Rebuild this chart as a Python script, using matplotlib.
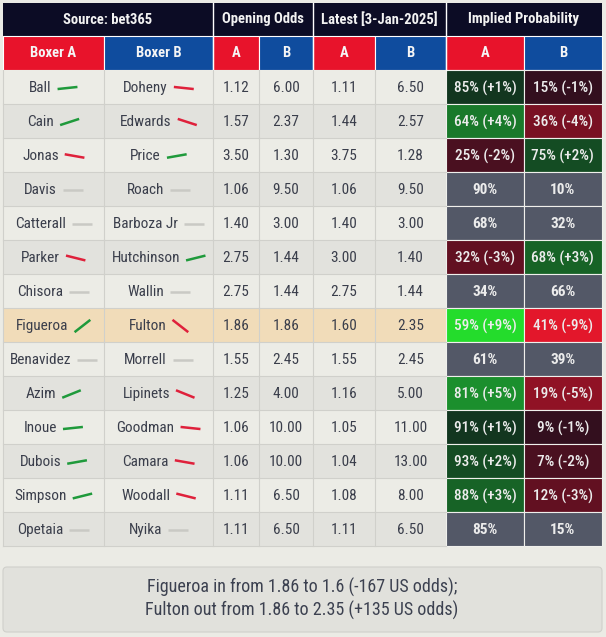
import matplotlib
matplotlib.use("Agg")
import matplotlib.pyplot as plt
from matplotlib import font_manager
from matplotlib.colors import LinearSegmentedColormap
from matplotlib.patches import Rectangle, FancyBboxPatch
import numpy as np

boxer_a = ["Ball", "Cain", "Jonas", "Davis", "Catterall", "Parker", "Chisora",
           "Figueroa", "Benavidez", "Azim", "Inoue", "Dubois", "Simpson", "Opetaia"]
boxer_b = ["Doheny", "Edwards", "Price", "Roach", "Barboza Jr", "Hutchinson", "Wallin",
           "Fulton", "Morrell", "Lipinets", "Goodman", "Camara", "Woodall", "Nyika"]
open_a = [1.12, 1.57, 3.50, 1.06, 1.40, 2.75, 2.75, 1.86, 1.55, 1.25, 1.06, 1.06, 1.11, 1.11]
open_b = [6.00, 2.37, 1.30, 9.50, 3.00, 1.44, 1.44, 1.86, 2.45, 4.00, 10.00, 10.00, 6.50, 6.50]
latest_a = [1.11, 1.44, 3.75, 1.06, 1.40, 3.00, 2.75, 1.60, 1.55, 1.16, 1.05, 1.04, 1.08, 1.11]
latest_b = [6.50, 2.57, 1.28, 9.50, 3.00, 1.40, 1.44, 2.35, 2.45, 5.00, 11.00, 13.00, 8.00, 6.50]
prob_a = [85, 64, 25, 90, 68, 32, 34, 59, 61, 81, 91, 93, 88, 85]
prob_b = [15, 36, 75, 10, 32, 68, 66, 41, 39, 19, 9, 7, 12, 15]
change_a = [1, 4, -2, 0, 0, -3, 0, 9, 0, 5, 1, 2, 3, 0]
change_b = [-1, -4, 2, 0, 0, 3, 0, -9, 0, -5, -1, -2, -3, 0]
highlight = "Figueroa"

top_headers = ["Source: bet365", "Opening Odds", "Latest [3-Jan-2025]", "Implied Probability"]
sub_headers = ["Boxer A", "Boxer B", "A", "B", "A", "B", "A", "B"]
note_lines = ["Figueroa in from 1.86 to 1.6 (-167 US odds);",
              "Fulton out from 1.86 to 2.35 (+135 US odds)"]

# fonts: a condensed face if there is one
names = {f.name for f in font_manager.fontManager.ttflist}
font = "Roboto"
scale = 0.95
for fam in ["Roboto Condensed", "Liberation Sans Narrow"]:
    if fam in names:
        font = fam
        scale = 1.0
        break
plt.rcParams["font.family"] = [font, "DejaVu Sans"]

BG = "#ebebe5"
ROW_LIGHT = "#ecece6"
ROW_DARK = "#e2e2dd"
ROW_HL = "#f1dcb9"
NAVY = "#0c0c25"
RED = "#e8132b"
BLUE = "#0f4c9e"
TXT = "#3a3e4b"
GRID = "#d0d0cb"

green_map = LinearSegmentedColormap.from_list(
    "up", [(0, "#10201c"), (0.55, "#1b8e2d"), (1, "#24dc2c")])
red_map = LinearSegmentedColormap.from_list(
    "down", [(0, "#1c0e1c"), (0.55, "#8f1225"), (1, "#e3172b")])


def prob_color(c):
    if c == 0:
        return "#535867"
    if c > 0:
        return green_map(min(c / 9, 1))
    return red_map(min(-c / 9, 1))


def trend_color(c):
    if c > 0:
        return "#1f9a3b"
    if c < 0:
        return "#df213b"
    return "#c9c9c4"


fig = plt.figure(figsize=(6.06, 6.37), dpi=100)
fig.patch.set_facecolor(BG)
ax = fig.add_axes([0, 0, 1, 1])
ax.set_xlim(0, 606)
ax.set_ylim(637, 0)
ax.axis("off")
renderer = fig.canvas.get_renderer()

cols = [2.5, 104, 213, 259, 313, 375, 446, 524, 601.5]
h1_top, h1_bot = 3, 36
row_h = 34
first = 70
n = len(boxer_a)

# header rows
ax.add_patch(Rectangle((cols[0], h1_top), cols[-1] - cols[0], h1_bot - h1_top,
                       facecolor=NAVY, edgecolor="none"))
spans = [(0, 2), (2, 4), (4, 6), (6, 8)]
for label, (i, j) in zip(top_headers, spans):
    ax.text((cols[i] + cols[j]) / 2, (h1_top + h1_bot) / 2, label, color="#f2f2f2",
            fontsize=10.5 * scale, fontweight="bold", ha="center", va="center")
    if i > 0:
        ax.plot([cols[i]] * 2, [h1_top, first], color="white", lw=1)
for k, label in enumerate(sub_headers):
    ax.add_patch(Rectangle((cols[k], h1_bot), cols[k + 1] - cols[k], first - h1_bot,
                           facecolor=RED if k % 2 == 0 else BLUE, edgecolor="white", lw=0.8))
    ax.text((cols[k] + cols[k + 1]) / 2, (h1_bot + first) / 2, label, color="#f5f5f5",
            fontsize=10.5 * scale, fontweight="bold", ha="center", va="center")


def name_with_trend(name, change, x0, x1, cy):
    t = ax.text(0, cy + 1, name, color=TXT, fontsize=11 * scale, ha="left", va="center")
    w = t.get_window_extent(renderer=renderer).width
    ang = np.radians(4 * abs(change) + 2) * np.sign(change)
    length = 20
    dx, dy = length * np.cos(ang), length * np.sin(ang)
    gap = 6
    start = (x0 + x1) / 2 - (w + gap + dx) / 2
    t.set_x(start)
    lx = start + w + gap
    ax.plot([lx, lx + dx], [cy + dy / 2 + 1, cy - dy / 2 + 1],
            color=trend_color(change), lw=1.8, solid_capstyle="butt")


for r in range(n):
    y0 = first + r * row_h
    cy = y0 + row_h / 2
    if boxer_a[r] == highlight:
        fc = ROW_HL
    else:
        fc = ROW_LIGHT if r % 2 == 0 else ROW_DARK
    ax.add_patch(Rectangle((cols[0], y0), cols[6] - cols[0], row_h,
                           facecolor=fc, edgecolor="none"))
    for k in range(1, 6):
        ax.plot([cols[k]] * 2, [y0, y0 + row_h], color=GRID, lw=0.8)
    ax.plot([cols[0], cols[6]], [y0 + row_h] * 2, color=GRID, lw=0.8)

    name_with_trend(boxer_a[r], change_a[r], cols[0], cols[1], cy)
    name_with_trend(boxer_b[r], change_b[r], cols[1], cols[2], cy)
    for k, val in zip(range(2, 6), [open_a[r], open_b[r], latest_a[r], latest_b[r]]):
        ax.text((cols[k] + cols[k + 1]) / 2, cy + 1, f"{val:.2f}", color=TXT,
                fontsize=11 * scale, ha="center", va="center")

    for k, p, c in [(6, prob_a[r], change_a[r]), (7, prob_b[r], change_b[r])]:
        ax.add_patch(Rectangle((cols[k], y0), cols[k + 1] - cols[k], row_h,
                               facecolor=prob_color(c), edgecolor="#f0f0ec", lw=0.8))
        label = f"{p}%" if c == 0 else f"{p}% ({c:+d}%)"
        ax.text((cols[k] + cols[k + 1]) / 2, cy + 1, label, color="#ececec",
                fontsize=11 * scale, fontweight="bold" if c == 0 else "medium",
                ha="center", va="center")

ax.plot([cols[0]] * 2, [first, first + n * row_h], color=GRID, lw=0.8)

# footer note
box = FancyBboxPatch((3, 567), 599, 65, boxstyle="round,pad=0,rounding_size=4",
                     facecolor="#e1e1dc", edgecolor="#d0d0cb", lw=0.8)
ax.add_patch(box)
ax.text(302, 599, "\n".join(note_lines), color="#3c4150", fontsize=13 * scale,
        ha="center", va="center", linespacing=1.3)

fig.savefig("out.png", dpi=100, facecolor=BG)
